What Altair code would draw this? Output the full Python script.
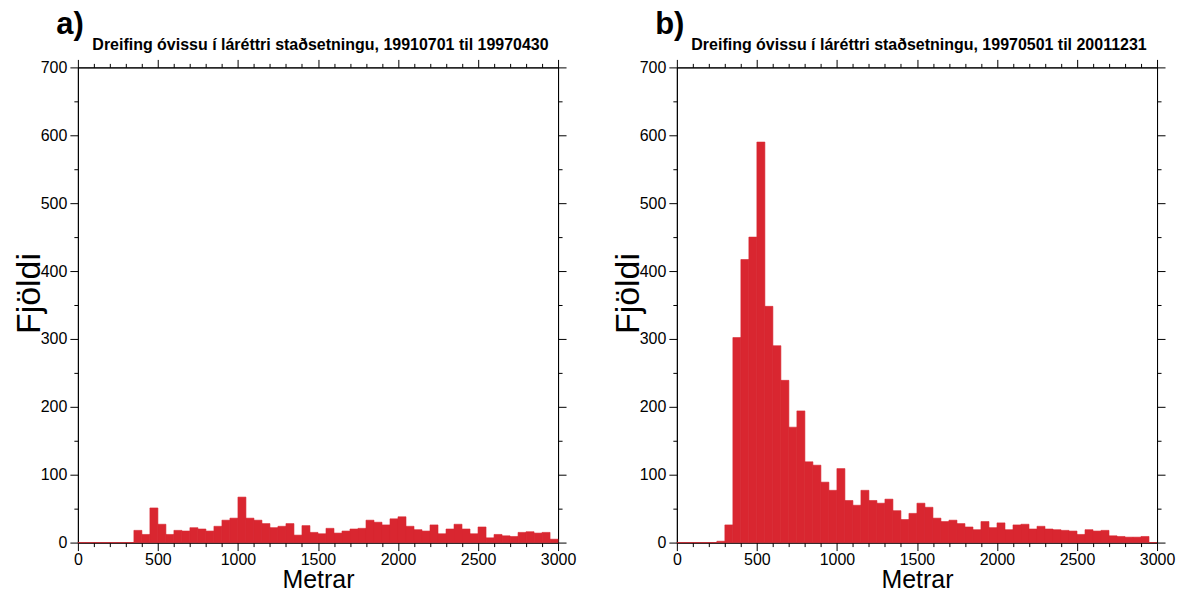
import altair as alt
import pandas as pd

# ---- data ----
bin_start = list(range(0, 3000, 50))  # 50 m bins, 0..3000 m

counts_a = [0, 0, 0, 0, 0, 0, 0,
            18, 12, 51, 27, 12, 18, 17, 22, 20, 17, 24, 33, 36,
            67, 36, 33, 28, 22, 24, 28, 11, 25, 15,
            13, 21, 14, 17, 20, 21, 33, 30, 26, 35,
            38, 24, 19, 17, 26, 13, 20, 27, 20, 13,
            23, 7, 12, 10, 9, 15, 16, 14, 15, 5]

counts_b = [0, 0, 0, 0, 0, 2,
            26, 302, 417, 450, 590, 348, 290, 239, 170, 194, 119, 114, 89, 77,
            109, 62, 55, 77, 62, 58, 64, 47, 34, 43,
            58, 52, 36, 31, 33, 28, 23, 19, 31, 22,
            29, 19, 26, 27, 20, 24, 20, 19, 18, 17,
            12, 19, 17, 18, 10, 9, 8, 8, 9, 0]

panel_letters = ["a)", "b)"]
panel_titles = ["Dreifing óvissu í láréttri staðsetningu, 19910701 til 19970430",
                "Dreifing óvissu í láréttri staðsetningu, 19970501 til 20011231"]
x_title = "Metrar"
y_title = "Fjöldi"
x_ticks = list(range(0, 3001, 100))
y_ticks = list(range(0, 701, 50))

RED = "#d92630"
FONT = "Liberation Sans"
W, H = 481, 476


def panel(counts, letter, subtitle):
    df = pd.DataFrame({"start": bin_start,
                       "end": [s + 50 for s in bin_start],
                       "count": counts})
    xs = alt.Scale(domain=[0, 3000], nice=False, zero=False)
    ys = alt.Scale(domain=[0, 700], nice=False)
    tx = {"condition": {"test": "datum.value % 500 === 0", "value": 8}, "value": 4}
    ty = {"condition": {"test": "datum.value % 100 === 0", "value": 8}, "value": 4}
    common = dict(grid=False, domainColor="black", tickColor="black",
                  labelColor="black", titleColor="black", labelFont=FONT,
                  titleFont=FONT, labelFontSize=16, labelOverlap=False,
                  labelFlush=False, domainWidth=1, tickWidth=1)
    xb = alt.Axis(orient="bottom", values=x_ticks, tickSize=tx,
                  labelExpr="datum.value % 500 === 0 ? datum.label : ''",
                  format="d", title=x_title, titleFontSize=25,
                  titleFontWeight="normal", labelPadding=1, titlePadding=0, **common)
    yl = alt.Axis(orient="left", values=y_ticks, tickSize=ty,
                  labelExpr="datum.value % 100 === 0 ? datum.label : ''",
                  format="d", title=y_title, titleFontSize=34,
                  titleFontWeight="normal", titleY=226, labelPadding=3,
                  titlePadding=-6, **common)
    xt = alt.Axis(orient="top", values=x_ticks, tickSize=tx, labels=False,
                  title=subtitle, titleFontSize=16, titleFontWeight="bold",
                  titleAnchor="start", titleAlign="left", titleX=14, titleY=-18,
                  titleBaseline="alphabetic", **common)
    yr = alt.Axis(orient="right", values=y_ticks, tickSize=ty, labels=False,
                  title=None, **common)

    bars = alt.Chart(df).mark_bar(color=RED, stroke=RED, strokeWidth=0.6).encode(
        x=alt.X("start:Q", scale=xs, axis=xb),
        x2="end:Q",
        y=alt.Y("count:Q", scale=ys, axis=yl),
        y2=alt.datum(0),
    )
    frame = alt.Chart(df).mark_bar(opacity=0).encode(
        x=alt.X("start:Q", scale=xs, axis=xt),
        x2="end:Q",
        y=alt.Y("count:Q", scale=ys, axis=yr),
        y2=alt.datum(0),
    )
    return alt.layer(bars, frame).resolve_axis(x="independent", y="independent").properties(
        width=W, height=H,
        title=alt.TitleParams(text=letter, anchor="start", dx=44, fontSize=31,
                              fontWeight="bold", font=FONT, color="black",
                              baseline="alphabetic", offset=-29),
    )


pa = panel(counts_a, panel_letters[0], panel_titles[0])
pb = panel(counts_b, panel_letters[1], panel_titles[1])

chart = alt.hconcat(pa, pb, spacing=33).properties(
    padding={"left": 3, "top": 0, "right": 0, "bottom": 0}
).configure_view(stroke="black", strokeWidth=1)

chart.save("out.html", embed_options={"renderer": "svg", "actions": False})
